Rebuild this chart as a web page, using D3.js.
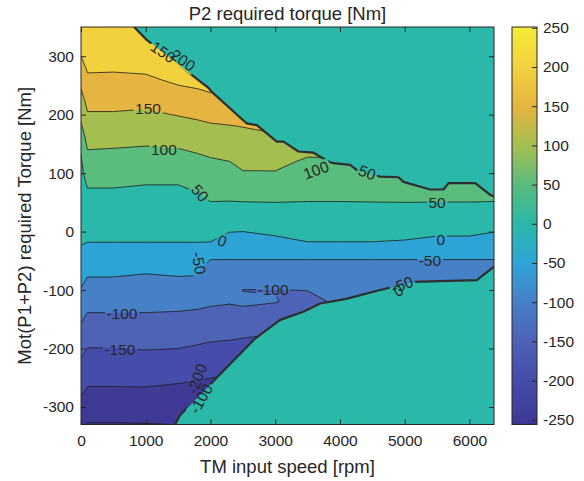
<!DOCTYPE html>
<html>
<head>
<meta charset="utf-8">
<script src="https://d3js.org/d3.v7.min.js"></script>
<style>
  body { margin: 0; background: #fff; }
  text { font-family: "Liberation Sans", Arial, sans-serif; fill: #262626; }
</style>
</head>
<body>
<svg id="plot"></svg>
<script>
// ---- data ----
// grid columns: TM input speed [rpm]
var speeds = [0, 100, 500, 1000, 1500, 1800, 2000, 2300, 2500, 3000, 3500, 4000, 4500, 5000, 5500, 6000, 6380];
// grid rows: Mot(P1+P2) required torque [Nm]
var torques = [-340, -320, -300, -280, -260, -240, -220, -200, -180, -160, -140, -120, -100, -80, -60, -40, -20,
               0, 20, 40, 60, 80, 100, 120, 140, 160, 180, 200, 220, 240, 260, 280, 300, 320, 340, 360];
// P2 required torque [Nm], one row per torque, one value per speed
var p2Torque = [
  [-246,-256,-256,-256,-256,-256,-256,-256,-256,-256,-256,-256,-256,-256,-256,-256,-256],
  [-230,-247,-247,-246,-243,-246,-250,-254,-256,-256,-256,-256,-256,-256,-256,-256,-256],
  [-214,-230,-230,-229,-229,-232,-236,-239,-243,-250,-256,-256,-256,-256,-256,-256,-256],
  [-198,-212,-212,-212,-214,-218,-221,-225,-229,-235,-242,-250,-256,-256,-256,-256,-256],
  [-183,-196,-196,-195,-200,-204,-207,-211,-214,-219,-225,-231,-245,-255,-256,-256,-256],
  [-168,-181,-181,-179,-183,-188,-192,-196,-200,-204,-208,-212,-225,-235,-240,-240,-240],
  [-153,-166,-166,-163,-167,-171,-175,-179,-183,-188,-192,-192,-205,-215,-220,-220,-220],
  [-137,-151,-151,-148,-150,-155,-159,-162,-166,-171,-177,-174,-185,-195,-200,-200,-200],
  [-120,-134,-134,-132,-134,-139,-143,-145,-148,-154,-162,-155,-165,-175,-180,-180,-180],
  [-103,-118,-118,-116,-119,-122,-126,-129,-132,-137,-146,-131,-144,-155,-160,-160,-160],
  [ -86,-101,-101,-101,-103,-106,-109,-112,-112,-120,-130,-106,-119,-131,-138,-138,-138],
  [ -70, -85, -85, -86, -86, -89, -94, -97, -92, -98,-115, -91, -97,-106,-113,-113,-113],
  [ -53, -69, -69, -71, -70, -72, -82, -84,-101,-101, -99, -83, -84, -89, -92, -92, -92],
  [ -38, -52, -52, -57, -53, -54, -76, -71, -72, -73, -80, -76, -76, -74, -76, -76, -76],
  [ -24, -35, -35, -39, -35, -37, -71, -64, -62, -65, -71, -71, -71, -70, -67, -67, -64],
  [  -9, -18, -18, -20, -18, -19, -36, -41, -42, -40, -36, -36, -36, -37, -39, -39, -41],
  [   2,  -1,  -1,  -1,  -1,  -1,  -2, -20, -21, -14,  -2,  -2,  -2,  -5, -13, -13, -20],
  [   8,  10,  10,  10,  10,  11,  14,   1,   0,   8,  14,  14,  14,  13,   8,   8,   1],
  [  14,  21,  21,  20,  20,  22,  28,  20,  20,  24,  28,  28,  28,  27,  25,  25,  20],
  [  20,  31,  31,  30,  30,  34,  42,  39,  39,  41,  42,  42,  42,  42,  41,  41,  39],
  [  27,  42,  42,  40,  40,  45,  56,  57,  59,  59,  56,  56,  57,  58,  58,  58,  58],
  [  33,  53,  53,  50,  50,  59,  69,  71,  78,  78,  68,  68,  73,  75,  77,  77,  77],
  [  39,  69,  69,  65,  66,  74,  82,  86,  97,  97,  80,  81,  88,  92,  95,  95,  95],
  [  45,  84,  83,  80,  82,  89,  95, 100, 111, 113,  93,  94, 106, 113, 119, 119, 119],
  [  53, 100,  98,  95,  98, 105, 110, 116, 124, 128, 112, 113, 128, 138, 144, 144, 144],
  [  73, 115, 114, 111, 116, 122, 128, 132, 138, 143, 142, 138, 150, 163, 169, 169, 169],
  [  93, 131, 130, 127, 134, 140, 145, 148, 151, 160, 167, 163, 175, 188, 194, 194, 194],
  [ 111, 146, 146, 142, 152, 158, 163, 168, 171, 180, 189, 188, 200, 213, 219, 219, 219],
  [ 128, 161, 161, 159, 172, 177, 183, 188, 192, 200, 210, 213, 225, 238, 244, 244, 244],
  [ 146, 177, 176, 176, 191, 196, 202, 208, 212, 220, 230, 238, 249, 249, 249, 249, 249],
  [ 164, 192, 191, 193, 208, 214, 221, 226, 231, 240, 249, 249, 249, 249, 249, 249, 249],
  [ 182, 206, 205, 208, 222, 232, 240, 245, 249, 249, 249, 249, 249, 249, 249, 249, 249],
  [ 200, 220, 219, 222, 236, 249, 249, 249, 249, 249, 249, 249, 249, 249, 249, 249, 249],
  [ 218, 233, 233, 236, 249, 249, 249, 249, 249, 249, 249, 249, 249, 249, 249, 249, 249],
  [ 236, 247, 246, 249, 249, 249, 249, 249, 249, 249, 249, 249, 249, 249, 249, 249, 249],
  [ 249, 249, 249, 249, 249, 249, 249, 249, 249, 249, 249, 249, 249, 249, 249, 249, 249]
];

// torque limits; outside them P2 torque is 0
var upperSpeed  = [820, 1015, 1968, 2020, 2561, 2716, 3025, 3127, 3359, 3591, 3822, 3900, 4158, 4261, 4621, 4904, 4981, 5394, 5600, 5677, 6090, 6321, 6380];
var upperTorque = [350,  328,  246,  239,  185,  182,  154,  154,  137,  135,  120,  117,  114,  105,   94,   93,   85,   72,   72,   83,   83,   63,   60];
var lowerSpeed  = [1453, 1530, 2689, 3076, 3436, 3694, 4096, 4621, 5136, 6116, 6380];
var lowerTorque = [-330, -314, -183, -151, -137, -123, -115, -100,  -86,  -83,  -60];

var levels = [-250, -200, -150, -100, -50, 0, 50, 100, 150, 200];
var xTicks = [0, 1000, 2000, 3000, 4000, 5000, 6000];
var yTicks = [-300, -200, -100, 0, 100, 200, 300];
var cbarTicks = [-250, -200, -150, -100, -50, 0, 50, 100, 150, 200, 250];
var cRange = [-256, 251];

// contour labels: text, speed, torque, angle
var labelText  = ["150", "200", "150", "100", "100", "50", "50", "50", "0", "0", "-50", "-50", "-50", "0", "-100", "-100", "-150", "-200", "-100"];
var labelSpeed = [1267, 1576, 1035, 1280, 3630, 4420, 5500, 1838, 2180, 5560, 1823, 5390, 4960, 4900, 2966, 633, 602, 1792, 1854];
var labelTorq  = [307, 293, 210, 141, 105, 101, 49, 66, -16, -13, -54, -50, -91, -101, -99, -141, -202, -252, -286];
var labelAngle = [35, 35, 0, 0, -20, 20, 0, 50, 20, 0, 80, 0, -20, -30, 0, 0, 0, -70, -60];

// colour map, as seen in the picture's colour bar
var colorLevels = [-256, -250, -200, -150, -100, -50, 0, 50, 100, 150, 200, 251];
var colorHex = ["#3a348e", "#3e3a96", "#464caa", "#4e62b6", "#4680c6", "#2ea4d6",
                "#2ab8a8", "#5abc7d", "#a5be50", "#e6b440", "#f1d23e", "#f5eb37"];
var color = d3.scaleLinear().domain(colorLevels).range(colorHex)
  .interpolate(d3.interpolateRgb).clamp(true);

// ---- layout ----
var SizeX = 584, SizeY = 481;
var plotL = 81, plotR = 494, plotT = 27, plotB = 424.5;
var cbarL = 512, cbarR = 537;
var ink = "#262626";

var svg = d3.select("#plot").attr("width", SizeX).attr("height", SizeY);
var defs = svg.append("defs");

var x = d3.scaleLinear().domain([0, 6380]).range([plotL, plotR]);
var y = d3.scaleLinear().domain([-330, 350]).range([plotB, plotT]);

// grid index -> data, piecewise along the uneven grid
var colToSpeed = d3.scaleLinear().domain(d3.range(speeds.length)).range(speeds);
var rowToTorque = d3.scaleLinear().domain(d3.range(torques.length)).range(torques);
var gridProj = d3.geoTransform({
  point: function(px, py) {
    this.stream.point(x(colToSpeed(px - 0.5)), y(rowToTorque(py - 0.5)));
  }
});
var path = d3.geoPath(gridProj);

var values = [].concat.apply([], p2Torque);
var bands = d3.contours()
  .size([speeds.length, torques.length])
  .thresholds([-1000].concat(levels))(values);

// clip paths
defs.append("clipPath").attr("id", "plotClip")
  .append("rect").attr("x", plotL).attr("y", plotT)
  .attr("width", plotR - plotL).attr("height", plotB - plotT);

var upperPts = upperSpeed.map(function(s, i){ return [x(s), y(upperTorque[i])]; });
var lowerPts = lowerSpeed.map(function(s, i){ return [x(s), y(lowerTorque[i])]; });
var L = plotL - 3, R = plotR + 3, T = plotT - 3, B = plotB + 3;
var feasible = [[L, T], [upperPts[0][0], T]]
  .concat(upperPts)
  .concat([[R, upperPts[upperPts.length - 1][1]], [R, lowerPts[lowerPts.length - 1][1]]])
  .concat(lowerPts.slice().reverse())
  .concat([[lowerPts[0][0], B], [L, B]]);
defs.append("clipPath").attr("id", "limitClip")
  .append("path").attr("d", "M" + feasible.join("L") + "Z");

// label gap mask
var mask = defs.append("mask").attr("id", "labelGap")
  .attr("maskUnits", "userSpaceOnUse")
  .attr("x", 0).attr("y", 0).attr("width", SizeX).attr("height", SizeY);
mask.append("rect").attr("width", SizeX).attr("height", SizeY).attr("fill", "#fff");

// ---- plot ----
var plot = svg.append("g").attr("clip-path", "url(#plotClip)");

// outside the limits the value is 0
plot.append("rect")
  .attr("x", plotL).attr("y", plotT)
  .attr("width", plotR - plotL).attr("height", plotB - plotT)
  .attr("fill", color(0));

var inside = plot.append("g").attr("clip-path", "url(#limitClip)");
inside.selectAll("path.band")
  .data(bands)
  .enter().append("path").attr("class", "band")
    .attr("d", path)
    .attr("fill", function(d){ return color(Math.max(d.value, cRange[0])); })
    .attr("fill-rule", "evenodd")
    .attr("stroke", "none");

var lines = inside.append("g").attr("mask", "url(#labelGap)");
lines.selectAll("path.iso")
  .data(bands.filter(function(d){ return d.value > -1000; }))
  .enter().append("path").attr("class", "iso")
    .attr("d", path)
    .attr("fill", "none")
    .attr("stroke", "#1e1e1e")
    .attr("stroke-width", 0.8);

var limitLine = d3.line().x(function(d){ return d[0]; }).y(function(d){ return d[1]; });
var limits = plot.append("g").attr("mask", "url(#labelGap)");
[upperPts, lowerPts].forEach(function(pts){
  limits.append("path")
    .attr("d", limitLine(pts))
    .attr("fill", "none")
    .attr("stroke", "#2e2e2e")
    .attr("stroke-width", 2.2)
    .attr("stroke-linejoin", "round");
});

// contour labels
var labelG = plot.append("g");
labelText.forEach(function(t, i){
  var tr = "translate(" + x(labelSpeed[i]) + "," + y(labelTorq[i]) + ") rotate(" + labelAngle[i] + ")";
  var txt = labelG.append("text")
    .attr("transform", tr)
    .attr("text-anchor", "middle")
    .attr("dy", "0.35em")
    .attr("font-size", 15.5)
    .text(t);
  var bb = txt.node().getBBox();
  mask.append("rect")
    .attr("transform", tr)
    .attr("x", bb.x - 1.5).attr("y", bb.y + 1)
    .attr("width", bb.width + 3).attr("height", bb.height - 2)
    .attr("fill", "#000");
});

// ---- axes ----
function styleAxis(g) {
  g.attr("font-size", 15.5).attr("font-family", "Liberation Sans, Arial, sans-serif");
  g.select(".domain").remove();
  g.selectAll(".tick line").attr("stroke", ink);
  g.selectAll(".tick text").attr("fill", ink);
}
svg.append("g").attr("transform", "translate(0," + plotB + ")")
  .call(d3.axisBottom(x).tickValues(xTicks).tickSize(-5).tickPadding(10).tickFormat(String))
  .call(styleAxis);
svg.append("g").attr("transform", "translate(0," + plotT + ")")
  .call(d3.axisTop(x).tickValues(xTicks).tickSize(-5).tickFormat(""))
  .call(styleAxis);
svg.append("g").attr("transform", "translate(" + plotL + ",0)")
  .call(d3.axisLeft(y).tickValues(yTicks).tickSize(-5).tickPadding(7).tickFormat(String))
  .call(styleAxis);
svg.append("g").attr("transform", "translate(" + plotR + ",0)")
  .call(d3.axisRight(y).tickValues(yTicks).tickSize(-5).tickFormat(""))
  .call(styleAxis);

svg.append("rect")
  .attr("x", plotL).attr("y", plotT)
  .attr("width", plotR - plotL).attr("height", plotB - plotT)
  .attr("fill", "none").attr("stroke", ink).attr("stroke-width", 1);

// ---- colorbar ----
var cy = d3.scaleLinear().domain(cRange).range([plotB, plotT]);
var grad = defs.append("linearGradient").attr("id", "cbarGrad")
  .attr("x1", 0).attr("y1", 1).attr("x2", 0).attr("y2", 0);
colorLevels.forEach(function(v, i){
  grad.append("stop")
    .attr("offset", (v - cRange[0]) / (cRange[1] - cRange[0]))
    .attr("stop-color", colorHex[i]);
});
svg.append("rect")
  .attr("x", cbarL).attr("y", plotT)
  .attr("width", cbarR - cbarL).attr("height", plotB - plotT)
  .attr("fill", "url(#cbarGrad)")
  .attr("stroke", ink).attr("stroke-width", 1);
svg.append("g").attr("transform", "translate(" + cbarR + ",0)")
  .call(d3.axisRight(cy).tickValues(cbarTicks).tickSize(-5).tickPadding(6).tickFormat(String))
  .call(styleAxis);

// ---- titles ----
svg.append("text")
  .attr("x", (plotL + plotR) / 2).attr("y", 19.5)
  .attr("text-anchor", "middle").attr("font-size", 18.5)
  .text("P2 required torque [Nm]");
svg.append("text")
  .attr("x", (plotL + plotR) / 2).attr("y", 473)
  .attr("text-anchor", "middle").attr("font-size", 18.5)
  .text("TM input speed [rpm]");
svg.append("text")
  .attr("transform", "translate(31," + (plotT + plotB) / 2 + ") rotate(-90)")
  .attr("text-anchor", "middle").attr("font-size", 18.5)
  .text("Mot(P1+P2) required Torque [Nm]");
</script>
</body>
</html>
